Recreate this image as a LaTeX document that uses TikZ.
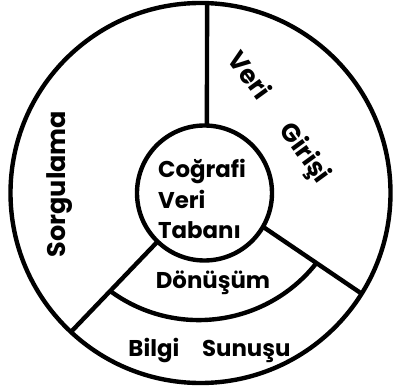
\documentclass[tikz,border=0pt]{standalone}
\usepackage{fontspec}
\setmainfont{Poppins}
\begin{document}
\begin{tikzpicture}[line width=2.5pt,
  ring/.style={circle, draw, inner sep=0pt, outer sep=0pt},
  lbl/.style={font=\fontsize{13}{17.5}\selectfont\bfseries},
  biglbl/.style={font=\fontsize{14.5}{17.5}\selectfont\bfseries}]

  \useasboundingbox (-4.01,-3.94) rectangle (3.85,3.86);

  % 1. dış halka ve çekirdek
  \node[ring, minimum size=7.6cm] (rim) at (0,0) {};
  \node[ring, minimum size=2.7cm] (db) at (0.08,0) {};

  % 2. bölme çizgileri
  \draw (db.88) -- (rim.88);
  \draw (db.-30.2) -- (rim.-32);
  \draw (db.-134.7) -- (rim.-133.5);

  % 3. Dönüşüm yayı
  \draw (-1.826,-1.945) arc[start angle=-126.8, end angle=-38.3, radius=2.994];

  % 4. yazılar
  \node[lbl, align=left] (dbname) at (0.03,-0.12) {Coğrafi\\Veri\\Tabanı};
  \node[lbl] (conv) at (0.25,-1.8) {Dönüşüm};
  \node[lbl] (show) at (0.18,-3.14) {Bilgi\quad Sunuşu};
  \node[biglbl, rotate=90] (query) at (-2.82,0.18) {Sorgulama};
  \node[biglbl, rotate=-54] (input) at (1.55,1.5) {Veri\hspace{1.4em}Girişi};

\end{tikzpicture}
\end{document}
